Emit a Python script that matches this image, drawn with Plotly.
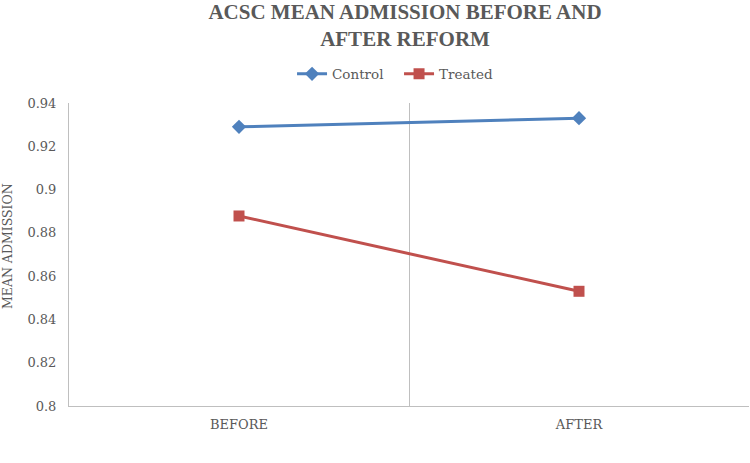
import plotly.graph_objects as go

categories = ["BEFORE", "AFTER"]
control = [0.929, 0.933]
treated = [0.8878, 0.853]
y_ticks = [0.8, 0.82, 0.84, 0.86, 0.88, 0.9, 0.92, 0.94]
y_tick_labels = ["0.8", "0.82", "0.84", "0.86", "0.88", "0.9", "0.92", "0.94"]
y_title = "MEAN ADMISSION"

FONT = "DejaVu Serif"
TITLE_FONT = "Liberation Serif"
GRAY = "#595959"

fig = go.Figure()
fig.add_trace(go.Scatter(
    x=categories, y=control, name="Control", mode="lines+markers",
    line=dict(color="#4F81BD", width=3),
    marker=dict(symbol="diamond", size=11, color="#4F81BD"),
))
fig.add_trace(go.Scatter(
    x=categories, y=treated, name="Treated", mode="lines+markers",
    line=dict(color="#C0504D", width=3),
    marker=dict(symbol="square", size=11, color="#C0504D"),
))

fig.update_layout(
    width=750, height=463,
    margin=dict(l=69, r=1, t=103, b=57, autoexpand=False),
    paper_bgcolor="white", plot_bgcolor="white",
    font=dict(family=FONT, color=GRAY, size=13),
    title=dict(
        text="<b>ACSC MEAN ADMISSION BEFORE AND<br>AFTER REFORM</b>",
        x=0.54, xanchor="center", yref="container", y=0.96, yanchor="middle",
        font=dict(family=TITLE_FONT, size=21, color=GRAY),
    ),
    legend=dict(
        orientation="h", x=0.328, xanchor="left", y=1.0957, yanchor="middle",
        font=dict(family=FONT, size=13.5, color=GRAY),
        traceorder="normal", entrywidth=62, entrywidthmode="pixels",
    ),
    xaxis=dict(
        type="category", range=[-0.5, 1.5], automargin=False,
        tickson="boundaries", ticks="", showgrid=True,
        gridcolor="#BFBFBF", gridwidth=1,
        showline=True, linecolor="#BFBFBF", linewidth=1, mirror=False,
        tickfont=dict(family=FONT, size=13, color=GRAY),
        ticklabelstandoff=6,
        fixedrange=True,
    ),
    yaxis=dict(
        range=[0.8, 0.94], tickvals=y_ticks, ticktext=y_tick_labels, automargin=False,
        showgrid=False, zeroline=False, ticks="",
        showline=True, linecolor="#BFBFBF", linewidth=1,
        tickfont=dict(family=FONT, size=13, color=GRAY),
        ticklabelstandoff=9,
    ),
    annotations=[dict(
        text=y_title, textangle=-90, showarrow=False,
        xref="paper", yref="paper", x=-0.0912, y=0.528,
        xanchor="center", yanchor="middle",
        font=dict(family=FONT, size=12.5, color=GRAY),
    )],
    showlegend=True,
)

fig.write_html(
    "out.html",
    config={"displayModeBar": False},
    post_script="document.body.style.margin='0';document.body.style.overflow='hidden';",
)
